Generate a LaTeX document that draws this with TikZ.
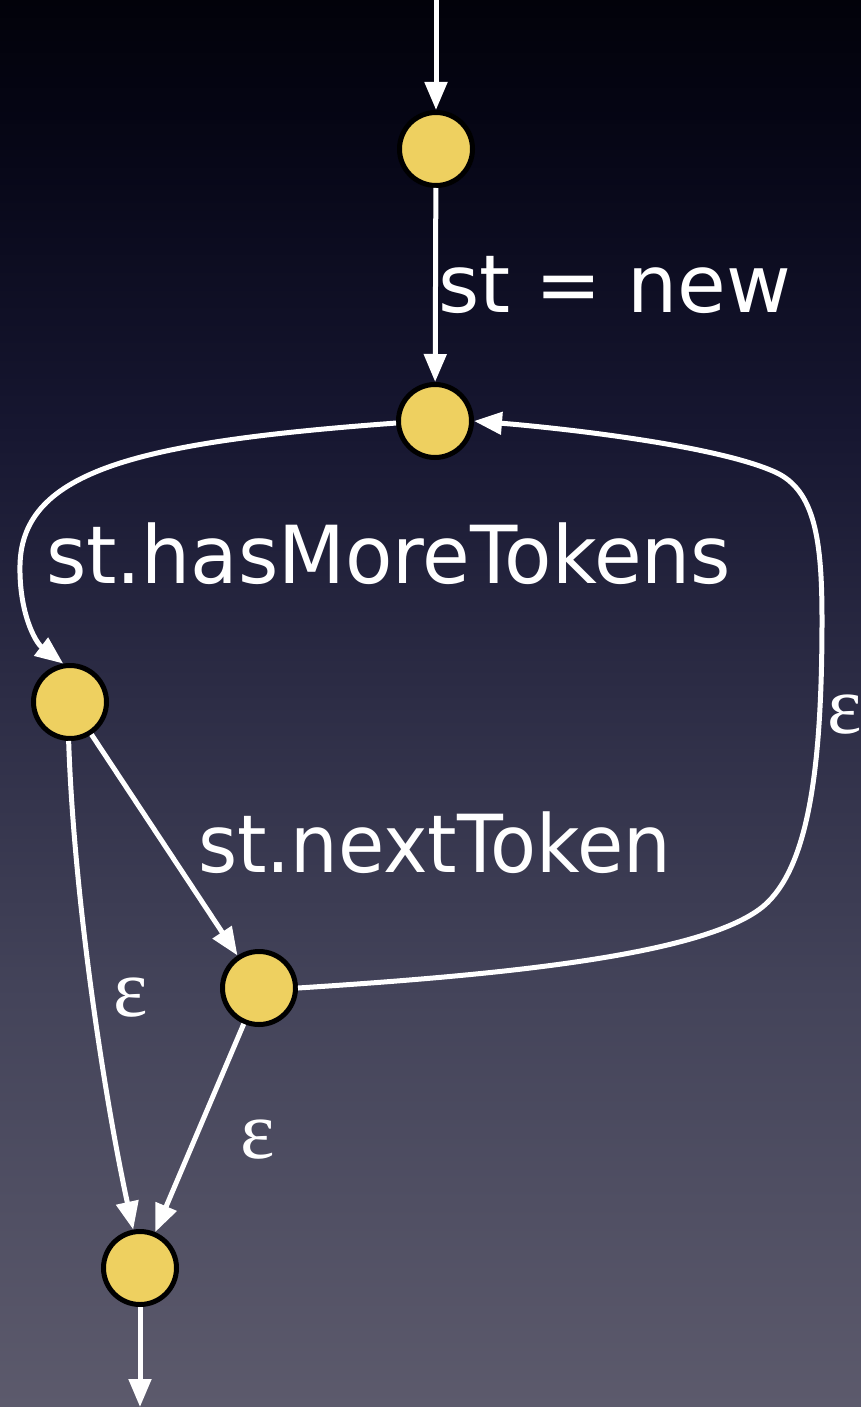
\documentclass[tikz,border=0pt]{standalone}
\usepackage{fontspec}
\setmainfont{DejaVu Sans}
\newfontfamily\epsfont{Liberation Serif}
\usetikzlibrary{arrows.meta}
\definecolor{bgA}{RGB}{2,2,10}
\definecolor{bgB}{RGB}{6,6,22}
\definecolor{bgC}{RGB}{22,22,48}
\definecolor{bgD}{RGB}{45,45,70}
\definecolor{bgE}{RGB}{68,68,90}
\definecolor{bgF}{RGB}{92,90,108}
\definecolor{stategold}{RGB}{238,208,96}
\pgfdeclareverticalshading{bgshade}{100bp}{color(0bp)=(bgF); color(25bp)=(bgF); color(39.5bp)=(bgE); color(50bp)=(bgD); color(60bp)=(bgC); color(70bp)=(bgB); color(75bp)=(bgA); color(100bp)=(bgA)}
\tikzset{
  state/.style={circle, draw=black, line width=5pt, fill=stategold, minimum size=73pt, inner sep=0pt},
  edge/.style={draw=white, line width=5pt, -{Triangle[length=28pt,width=22pt]}},
  lbl/.style={text=white, inner sep=0pt, anchor=base west, font=\fontsize{80}{90}\selectfont},
  eps/.style={text=white, inner sep=0pt, anchor=center, font=\epsfont\fontsize{82}{90}\selectfont}
}
\begin{document}
\begin{tikzpicture}[x=1pt,y=-1pt]
\shade[shading=bgshade] (0,0) rectangle (861,1407);
\useasboundingbox (0,0) rectangle (861,1407);
\node[state] (n1) at (436,149) {};
\node[state] (n2) at (435,421) {};
\node[state] (n3) at (70,702) {};
\node[state] (n4) at (259,988) {};
\node[state] (n5) at (140,1268) {};
\coordinate (in) at (436,0);
\coordinate (out) at (140,1407);
\path[edge] (in) -- (n1);
\path[edge] (n1) -- (n2);
\path[edge] (n2.183) .. controls (140,442) and (22,470) .. (20,565) .. controls (19,612) and (35,642) .. (n3.100);
\path[edge] (n3) -- (n4);
\path[edge] (n3.268) .. controls (74,900) and (105,1100) .. (n5.100);
\path[edge] (n4) -- (n5);
\path[edge] (n4.east) .. controls (500,975) and (715,955) .. (768,902) .. controls (808,862) and (822,770) .. (822,620) .. controls (822,540) and (815,490) .. (775,472) .. controls (715,445) and (560,428) .. (n2.east);
\path[edge] (n5) -- (out);
\node[lbl] (l1) at (438,312) {\scalebox{0.99}[1]{st = new}};
\node[lbl] (l2) at (46,583) {\scalebox{0.968}[1]{st.hasMoreTokens}};
\node[lbl] (l3) at (198,872) {\scalebox{0.94}[1]{st.nextToken}};
\node[eps] (e1) at (131,998) {ε};
\node[eps] (e2) at (258,1140) {ε};
\node[eps] (e3) at (845,715) {ε};
\end{tikzpicture}
\end{document}
